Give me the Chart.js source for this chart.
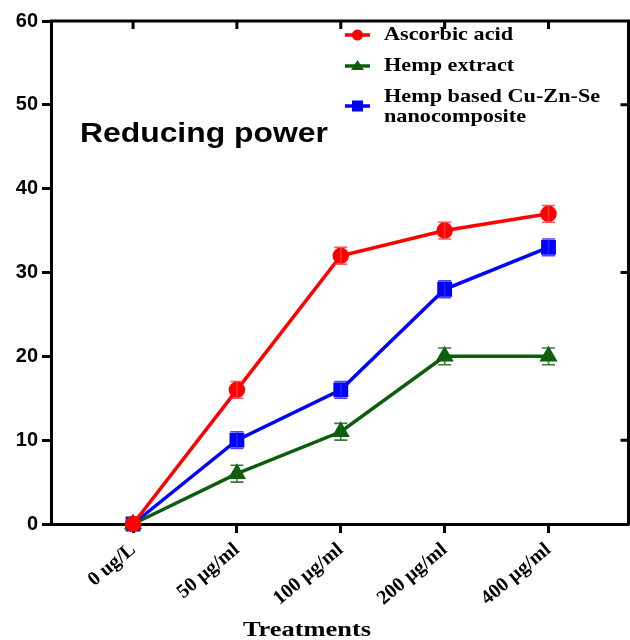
<!DOCTYPE html>
<html>
<head>
<meta charset="utf-8">
<script src="https://cdn.jsdelivr.net/npm/chart.js@4.4.1/dist/chart.umd.min.js"></script>
<style>
  html, body { margin: 0; padding: 0; background: #ffffff; }
  #wrap { width: 630px; height: 640px; position: relative; }
</style>
</head>
<body>
<div id="wrap"><canvas id="c" width="630" height="640"></canvas></div>
<script>
const categories = ['0 ug/L', '50 µg/ml', '100 µg/ml', '200 µg/ml', '400 µg/ml'];
const ascorbicAcid = [0, 16, 32, 35, 37];
const ascorbicAcidErr = [0, 1, 1, 1, 1];
const hempExtract = [0, 6, 11, 20, 20];
const hempExtractErr = [0, 1, 1, 1, 1];
const nanocomposite = [0, 10, 16, 28, 33];
const nanocompositeErr = [0, 1, 1, 1, 1];
const yTickValues = [0, 10, 20, 30, 40, 50, 60];
const rightTickValues = [10, 30, 50];
const seriesLabels = ['Ascorbic acid', 'Hemp extract', ['Hemp based Cu-Zn-Se', 'nanocomposite']];
const chartTitle = 'Reducing power';
const xTitle = 'Treatments';

const toPoints = arr => arr.map((v, i) => ({ x: i, y: v }));

function stretchedText(ctx, text, x, y, sx) {
  ctx.save();
  ctx.translate(x, y);
  ctx.scale(sx, 1);
  ctx.fillText(text, 0, 0);
  ctx.restore();
}

const errorBarPlugin = {
  id: 'errorBars',
  afterDatasetsDraw(chart) {
    const ctx = chart.ctx;
    const xs = chart.scales.x, ys = chart.scales.y;
    chart.data.datasets.forEach(ds => {
      ctx.save();
      ctx.strokeStyle = ds.errColor;
      ctx.lineWidth = 1.6;
      ds.data.forEach((p, i) => {
        const e = ds.err[i];
        if (!e) return;
        const x = xs.getPixelForValue(p.x);
        const y1 = ys.getPixelForValue(p.y + e);
        const y2 = ys.getPixelForValue(p.y - e);
        ctx.beginPath();
        ctx.moveTo(x, y1); ctx.lineTo(x, y2);
        ctx.moveTo(x - 6.5, y1); ctx.lineTo(x + 6.5, y1);
        ctx.moveTo(x - 6.5, y2); ctx.lineTo(x + 6.5, y2);
        ctx.stroke();
      });
      ctx.restore();
    });
  }
};

const framePlugin = {
  id: 'frame',
  afterDraw(chart) {
    const ctx = chart.ctx;
    const a = chart.chartArea;
    const xs = chart.scales.x, ys = chart.scales.y;
    ctx.save();
    ctx.strokeStyle = '#000';
    ctx.lineWidth = 3;
    ctx.beginPath();
    ctx.moveTo(a.left - 1.5, a.top);
    ctx.lineTo(a.right, a.top);
    ctx.lineTo(a.right, a.bottom + 1.5);
    ctx.stroke();
    ctx.beginPath();
    categories.forEach((c, i) => {
      const x = xs.getPixelForValue(i);
      ctx.moveTo(x, a.top);
      ctx.lineTo(x, a.top + 8);
    });
    rightTickValues.forEach(v => {
      const y = ys.getPixelForValue(v);
      ctx.moveTo(a.right, y);
      ctx.lineTo(a.right - 8, y);
    });
    ctx.stroke();

    // In-plot title
    ctx.fillStyle = '#000';
    ctx.font = 'bold 27px "Liberation Sans", Arial, sans-serif';
    ctx.textAlign = 'left';
    ctx.textBaseline = 'middle';
    stretchedText(ctx, chartTitle, 80, 135, 1.18);

    // X title
    ctx.font = 'bold 22px "Liberation Serif", "Times New Roman", serif';
    ctx.textAlign = 'center';
    stretchedText(ctx, xTitle, 307, 630, 1.2);

    // Legend
    const rows = [35, 66, 106];
    chart.data.datasets.forEach((ds, i) => {
      const y = rows[i];
      ctx.strokeStyle = ds.borderColor;
      ctx.lineWidth = 3.5;
      ctx.beginPath();
      ctx.moveTo(345, y); ctx.lineTo(370, y);
      ctx.stroke();
      ctx.fillStyle = ds.borderColor;
      if (ds.pointStyle === 'circle') {
        ctx.beginPath(); ctx.arc(357.5, y, 5.5, 0, Math.PI * 2); ctx.fill();
      } else if (ds.pointStyle === 'triangle') {
        ctx.beginPath();
        ctx.moveTo(357.5, y - 6); ctx.lineTo(364, y + 4); ctx.lineTo(351, y + 4);
        ctx.closePath(); ctx.fill();
      } else {
        ctx.fillRect(352, y - 5.5, 11, 11);
      }
      ctx.fillStyle = '#000';
      ctx.font = 'bold 19px "Liberation Serif", "Times New Roman", serif';
      ctx.textAlign = 'left';
      ctx.textBaseline = 'middle';
      const lbl = seriesLabels[i];
      if (Array.isArray(lbl)) {
        stretchedText(ctx, lbl[0], 384, 97, 1.17);
        stretchedText(ctx, lbl[1], 384, 117, 1.17);
      } else {
        stretchedText(ctx, lbl, 384, y, 1.17);
      }
    });
    ctx.restore();
  }
};

new Chart(document.getElementById('c'), {
  type: 'line',
  data: {
    datasets: [
      {
        label: 'Ascorbic acid',
        data: toPoints(ascorbicAcid),
        err: ascorbicAcidErr,
        borderColor: '#ff0000',
        backgroundColor: '#ff0000',
        errColor: 'rgba(255,60,60,0.85)',
        pointStyle: 'circle',
        pointRadius: 6.5,
        borderWidth: 3.5,
        clip: false
      },
      {
        label: 'Hemp extract',
        data: toPoints(hempExtract),
        err: hempExtractErr,
        borderColor: '#0b5e0b',
        backgroundColor: '#0b5e0b',
        errColor: 'rgba(20,100,20,0.85)',
        pointStyle: 'triangle',
        pointRadius: 7,
        borderWidth: 3.5,
        clip: false
      },
      {
        label: 'Hemp based Cu-Zn-Se nanocomposite',
        data: toPoints(nanocomposite),
        err: nanocompositeErr,
        borderColor: '#0000ff',
        backgroundColor: '#0000ff',
        errColor: 'rgba(40,40,255,0.85)',
        pointStyle: 'rect',
        pointRadius: 8,
        borderWidth: 3.5,
        clip: false
      }
    ]
  },
  options: {
    responsive: false,
    animation: false,
    layout: { autoPadding: false, padding: { top: 21, right: 1.5, left: 0, bottom: 0 } },
    plugins: { legend: { display: false }, tooltip: { enabled: false } },
    elements: { line: { tension: 0 } },
    scales: {
      x: {
        type: 'linear',
        min: -0.79,
        max: 4.77,
        afterBuildTicks(scale) {
          scale.ticks = categories.map((c, i) => ({ value: i }));
        },
        afterFit(scale) {
          scale.height = 116;
          scale.paddingLeft = 0;
          scale.paddingRight = 0;
        },
        grid: { drawOnChartArea: false, tickLength: 9, tickWidth: 3, tickColor: '#000' },
        border: { display: true, color: '#000', width: 3 },
        ticks: {
          color: '#000',
          autoSkip: false,
          maxRotation: 40,
          minRotation: 40,
          padding: 5,
          font: { family: '"Liberation Serif", "Times New Roman", serif', weight: 'bold', size: 20 },
          callback: (v) => categories[v] !== undefined ? categories[v] : ''
        }
      },
      y: {
        min: 0,
        max: 60,
        afterBuildTicks(scale) {
          scale.ticks = yTickValues.map(v => ({ value: v }));
        },
        afterFit(scale) { scale.width = 51; },
        grid: { drawOnChartArea: false, tickLength: 9, tickWidth: 3, tickColor: '#000' },
        border: { display: true, color: '#000', width: 3 },
        ticks: {
          color: '#000',
          padding: 4,
          font: { family: '"Liberation Sans", Arial, sans-serif', weight: 'bold', size: 20 }
        }
      }
    }
  },
  plugins: [errorBarPlugin, framePlugin]
});
</script>
</body>
</html>
